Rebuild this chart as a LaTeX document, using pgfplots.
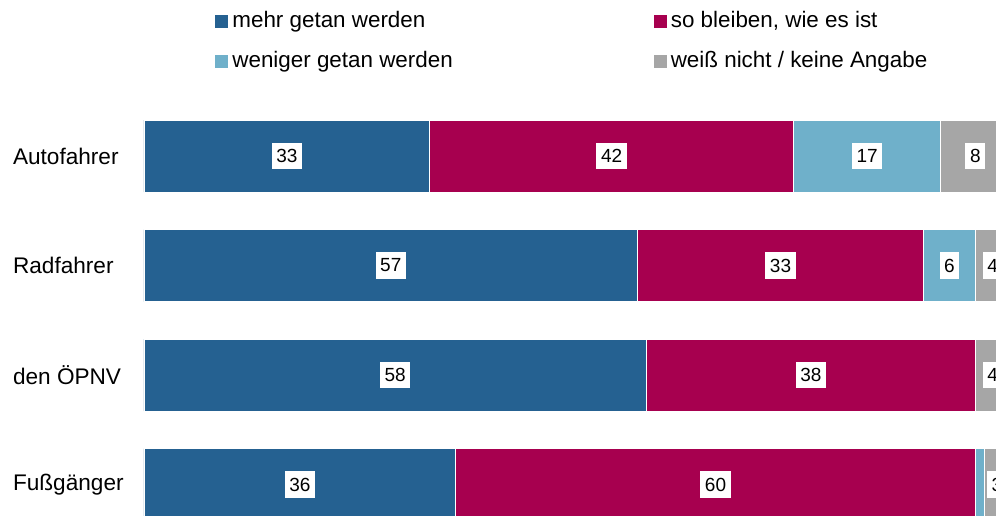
\documentclass[border=0pt]{standalone}
\usepackage{pgfplots}
\pgfplotsset{compat=1.18}
\usepackage{fontspec}
\setmainfont{Liberation Sans}

\definecolor{cmehr}{RGB}{37,97,145}
\definecolor{cbleib}{RGB}{167,0,79}
\definecolor{cwenig}{RGB}{111,176,202}
\definecolor{cweiss}{RGB}{166,166,166}

\pgfplotsset{
  base/.style={
    scale only axis, width=433pt, height=219pt,
    xmin=0, xmax=100, ymin=-0.5, ymax=3.5, y dir=reverse,
    axis line style={draw=none}, xtick=\empty, major tick length=0pt,
    at={(72pt,-50.625pt)}, anchor=north west,
    /pgf/number format/assume math mode=true,
  }
}

\begin{document}
\begin{tikzpicture}
\begin{axis}[base,
    xbar stacked, bar width=36pt,
    ytick={0,1,2,3},
    yticklabels={Autofahrer,Radfahrer,den ÖPNV,Fußgänger},
    yticklabel style={anchor=west, xshift=-69pt, font=\fontsize{11.3}{13}\selectfont},
    legend columns=2,
    legend cell align=left,
    legend image code/.code={\fill[#1, draw=none] (0pt,-3.25pt) rectangle (6.5pt,3.25pt);},
    legend style={draw=none, fill=none, at={(0,1)}, anchor=north west,
      xshift=35.5pt, yshift=46.1pt, font=\fontsize{11.2}{13}\selectfont,
      inner sep=0pt, row sep=8.5pt,
      nodes={inner xsep=2pt, inner ysep=1pt},
      /tikz/every even column/.append style={column sep=98.5pt}},
  ]
\addplot[fill=cmehr, draw=white, line width=0.3pt] coordinates {(33,0) (57,1) (58,2) (36,3)};
\addlegendentry{mehr getan werden}
\addplot[fill=cbleib, draw=white, line width=0.3pt] coordinates {(42,0) (33,1) (38,2) (60,3)};
\addlegendentry{so bleiben, wie es ist}
\addplot[fill=cwenig, draw=white, line width=0.3pt] coordinates {(17,0) (6,1) (0,2) (1,3)};
\addlegendentry{weniger getan werden}
\addplot[fill=cweiss, draw=white, line width=0.3pt] coordinates {(8,0) (4,1) (4,2) (3,3)};
\addlegendentry{weiß nicht / keine Angabe}
\end{axis}
\begin{axis}[base, clip=false, ytick=\empty]
\addplot[only marks, mark=none,
  nodes near coords, point meta=explicit symbolic,
  nodes near coords style={anchor=center, fill=white, text=black,
    fill opacity=1, text opacity=1, draw opacity=1,
    font=\fontsize{9.5}{11}\selectfont, inner xsep=2.3pt, inner ysep=0pt,
    minimum height=13.4pt}]
  table[meta=lab] {
x y lab
16.5 0 33
54 0 42
83.5 0 17
96 0 8
28.5 1 57
73.5 1 33
93 1 6
98 1 4
29 2 58
77 2 38
98 2 4
18 3 36
66 3 60
98.5 3 3
};
\end{axis}
\pgfresetboundingbox
\useasboundingbox (0,0) rectangle (498pt,-257.5pt);
\end{tikzpicture}
\end{document}
